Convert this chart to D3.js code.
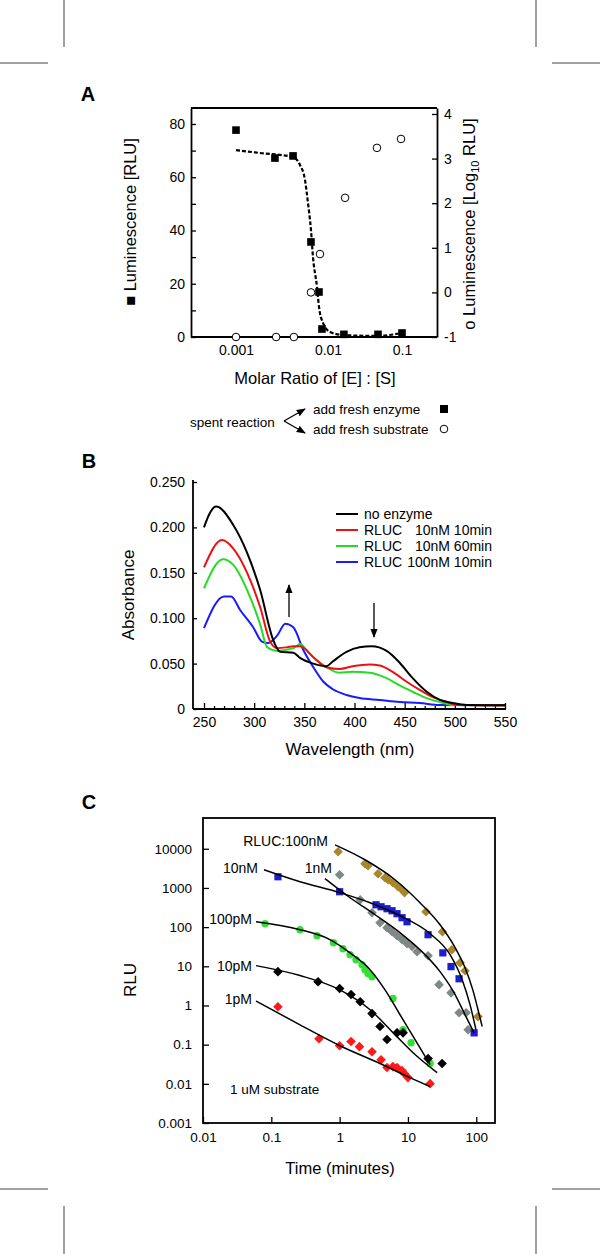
<!DOCTYPE html>
<html>
<head>
<meta charset="utf-8">
<script src="https://cdn.jsdelivr.net/npm/d3@7"></script>
<style>
  body { margin: 0; background: #fff; }
  svg text { font-family: Arial, "Liberation Sans", sans-serif; fill: #000; }
</style>
</head>
<body>
<div id="chart"></div>
<script>
// ---------- Panel A data ----------
const ratioTicks = [0.001, 0.01, 0.1];
const sqRatio = [0.001, 0.00265, 0.00417, 0.00653, 0.00798, 0.0086, 0.0164, 0.0474, 0.1];
const sqRLU = [77.7, 67.2, 68, 35.7, 16.9, 3, 1, 1, 1.5];
const circRatio = [0.001, 0.00273, 0.00426, 0.00653, 0.00818, 0.017, 0.0459, 0.097];
const circLog = [-1, -1, -1, 0, 0.86, 2.12, 3.24, 3.44];
const fitRatio = [0.001, 0.00182, 0.00417, 0.00496, 0.00562, 0.00606, 0.00653, 0.00687, 0.00759, 0.00798, 0.00883, 0.01064, 0.01595, 0.0459, 0.1];
const fitRLU = [70.2, 69.1, 67.6, 64.6, 59, 50.3, 40.2, 30, 18.8, 11.3, 5.3, 1.9, 0.75, 0.4, 1.5];

// ---------- Panel B data ----------
const wlTicks = [250, 300, 350, 400, 450, 500, 550];
const absTicks = [0, 0.05, 0.1, 0.15, 0.2, 0.25];
const blackWl = [250, 255, 262, 279, 293, 306, 319, 326, 339, 346, 359, 372, 378, 392, 405, 417, 432, 445, 458, 472, 485, 498, 512, 550];
const blackAbs = [0.200, 0.214, 0.223, 0.203, 0.172, 0.131, 0.076, 0.063, 0.062, 0.056, 0.050, 0.047, 0.052, 0.063, 0.068, 0.069, 0.064, 0.051, 0.034, 0.019, 0.010, 0.0066, 0.0044, 0.004];
const redWl = [250, 268, 279, 293, 306, 316, 323, 333, 339, 346, 359, 372, 385, 398, 415, 425, 438, 452, 465, 478, 492, 502, 550];
const redAbs = [0.156, 0.186, 0.177, 0.150, 0.112, 0.074, 0.067, 0.068, 0.069, 0.069, 0.057, 0.046, 0.044, 0.047, 0.049, 0.048, 0.041, 0.030, 0.021, 0.013, 0.0077, 0.0044, 0.004];
const greenWl = [250, 269, 279, 293, 306, 313, 323, 339, 346, 352, 362, 372, 385, 398, 415, 432, 445, 458, 472, 485, 498, 550];
const greenAbs = [0.133, 0.165, 0.159, 0.131, 0.093, 0.068, 0.064, 0.067, 0.0716, 0.065, 0.054, 0.046, 0.040, 0.041, 0.040, 0.034, 0.026, 0.019, 0.012, 0.0077, 0.0044, 0.004];
const blueWl = [250, 270, 277, 286, 299, 308, 314, 323, 331, 339, 349, 359, 369, 378, 392, 405, 425, 445, 465, 485, 550];
const blueAbs = [0.089, 0.124, 0.124, 0.109, 0.090, 0.074, 0.0727, 0.081, 0.094, 0.090, 0.065, 0.046, 0.030, 0.022, 0.0154, 0.012, 0.0099, 0.0077, 0.0066, 0.0044, 0.004];
const legendB = ["no enzyme", "RLUC   10nM 10min", "RLUC   10nM 60min", "RLUC 100nM 10min"];

// ---------- Panel C data ----------
const timeTicks = [0.01, 0.1, 1, 10, 100];
const rluTicks = [0.001, 0.01, 0.1, 1, 10, 100, 1000, 10000];
const gold_t = [0.95, 2.35, 2.6, 3.65, 4.62, 5.11, 6.03, 7.16, 8.2, 8.9, 18.4, 32, 44, 58, 68.5, 106];
const gold_v = [8400, 4140, 3680, 2300, 1820, 1620, 1360, 1070, 900, 760, 247, 76, 26.5, 12.4, 7.7, 0.52];
const goldFit_t = [0.857, 2.35, 6.46, 15, 29.5, 49, 68.5, 89, 106, 122];
const goldFit_v = [12600, 5240, 1620, 419, 115, 30, 9.2, 2.5, 0.78, 0.29];
const blue_t = [0.125, 1.0, 3.41, 4.04, 4.94, 5.85, 6.92, 8.2, 9.7, 19.7, 32.4, 42.7, 56, 93];
const blue_v = [1930, 800, 372, 331, 295, 262, 220, 174, 137, 64, 22, 9.8, 4.8, 0.2];
const blueFit_t = [0.078, 0.263, 1.0, 2.79, 7.66, 21.1, 41.3, 62, 81, 99];
const blueFit_v = [2910, 1440, 760, 419, 195, 68, 19.8, 4.6, 1.05, 0.24];
const gray_t = [1.0, 2.0, 2.98, 3.9, 4.94, 5.85, 6.92, 8.2, 9.7, 11.5, 13.6, 19.7, 28.5, 42.7, 56, 71, 75.9];
const gray_v = [2170, 500, 233, 129, 97, 76, 60, 48, 38, 32, 23.6, 18.6, 3.4, 2.1, 0.65, 0.65, 0.24];
const grayFit_t = [0.61, 1.42, 3.3, 7.66, 15, 29.5, 49, 68.5, 93];
const grayFit_v = [1720, 562, 207, 72, 26.5, 7.3, 1.9, 0.58, 0.2];
const green_t = [0.081, 0.263, 0.467, 0.81, 1.12, 1.42, 1.74, 2.13, 2.35, 2.6, 2.98, 6.03, 8.48, 11.1, 21.1];
const green_v = [122, 86, 60, 40, 28, 19.8, 14.7, 11, 8.2, 6.5, 5.4, 1.5, 0.24, 0.112, 0.033];
const greenFit_t = [0.0597, 0.263, 0.72, 1.42, 2.79, 4.62, 7.66, 12.7, 21.1];
const greenFit_v = [137, 86, 48, 22, 8.2, 2.5, 0.58, 0.135, 0.031];
const black_t = [0.125, 0.483, 1.0, 1.47, 2.0, 2.98, 3.9, 4.94, 6.92, 8.48, 19.7, 31.6];
const black_v = [7.3, 4.05, 2.7, 1.9, 1.25, 0.62, 0.29, 0.135, 0.2, 0.2, 0.044, 0.033];
const blackFit_t = [0.0597, 0.263, 1.01, 2.79, 6.46, 12.7, 26.7];
const blackFit_v = [10.4, 5.8, 2.5, 0.78, 0.18, 0.056, 0.0193];
const red_t = [0.125, 0.499, 1.0, 1.47, 1.95, 2.98, 4.04, 4.94, 6.03, 6.92, 8.2, 8.9, 10, 21.1];
const red_v = [0.93, 0.142, 0.094, 0.12, 0.089, 0.066, 0.041, 0.026, 0.0275, 0.026, 0.0217, 0.018, 0.0144, 0.0101];
const redFit_t = [0.0597, 0.263, 1.01, 3.9, 10.7, 21.1];
const redFit_v = [1.3, 0.32, 0.094, 0.033, 0.0144, 0.0085];

const zip = (a, b) => a.map((d, i) => [d, b[i]]);

const svg = d3.select("#chart").append("svg")
    .attr("width", 600).attr("height", 1254);

const defs = svg.append("defs");
defs.append("marker").attr("id", "head")
    .attr("viewBox", "0 0 10 10").attr("refX", 9).attr("refY", 5)
    .attr("markerWidth", 7).attr("markerHeight", 7).attr("orient", "auto")
    .append("path").attr("d", "M0,1 L10,5 L0,9 Z").attr("fill", "#000");

// crop marks
const crop = [[64, 0, 64, 47], [0, 63, 48, 63], [536, 0, 536, 47], [552, 63, 600, 63],
              [0, 1189, 48, 1189], [64, 1206, 64, 1254], [552, 1189, 600, 1189], [536, 1206, 536, 1254]];
svg.selectAll(".crop").data(crop).enter().append("line")
    .attr("x1", d => d[0]).attr("y1", d => d[1]).attr("x2", d => d[2]).attr("y2", d => d[3])
    .attr("stroke", "#808080").attr("stroke-width", 1.5);

function panelLetter(t, x, y) {
    svg.append("text").attr("x", x).attr("y", y).attr("font-size", 20).attr("font-weight", "bold")
        .attr("text-anchor", "middle").attr("dy", "0.36em").text(t);
}
function styleAxis(g, fs) {
    g.selectAll("path.domain").attr("stroke", "#000").attr("stroke-width", 1.8);
    g.selectAll(".tick line").attr("stroke", "#000").attr("stroke-width", 1.3);
    g.selectAll(".tick text").attr("font-size", fs).attr("font-family", "Arial, 'Liberation Sans', sans-serif").attr("fill", "#000");
}

// ================= Panel A =================
panelLetter("A", 88, 94);
const xA = d3.scaleLog().domain(ratioTicks).range([236, 328, 402]);
const yA = d3.scaleLinear().domain([0, 86]).range([337, 108]);
const yA2 = d3.scaleLinear().domain([-1, 4.134]).range([337, 108]);

svg.append("line").attr("x1", 191).attr("x2", 437).attr("y1", 108).attr("y2", 108)
    .attr("stroke", "#000").attr("stroke-width", 1.8);

const gAl = svg.append("g").attr("transform", "translate(191,0)")
    .call(d3.axisLeft(yA).tickValues(d3.range(0, 81, 10)).tickSizeInner(-5).tickSizeOuter(0)
        .tickPadding(6).tickFormat(d => d % 20 === 0 ? d : ""));
styleAxis(gAl, 14);
const gAr = svg.append("g").attr("transform", "translate(437,0)")
    .call(d3.axisRight(yA2).tickValues([-1, 0, 1, 2, 3, 4]).tickSizeInner(-5).tickSizeOuter(0)
        .tickPadding(7).tickFormat(d3.format("d")));
styleAxis(gAr, 14);
gAr.selectAll(".tick text").text(d => d < 0 ? "-" + Math.abs(d) : d);
const gAb = svg.append("g").attr("transform", "translate(0,337)")
    .call(d3.axisBottom(xA).tickValues(ratioTicks).tickSize(0).tickPadding(8)
        .tickFormat(d => String(d)));
gAb.select("path.domain").attr("d", "M191,0H437");
styleAxis(gAb, 14);

svg.append("path").datum(zip(fitRatio, fitRLU))
    .attr("fill", "none").attr("stroke", "#000").attr("stroke-width", 2.2)
    .attr("stroke-dasharray", "4,2")
    .attr("d", d3.line().x(d => xA(d[0])).y(d => yA(d[1])).curve(d3.curveMonotoneX));

svg.selectAll(".sqA").data(zip(sqRatio, sqRLU)).enter().append("rect")
    .attr("x", d => xA(d[0]) - 3.8).attr("y", d => yA(d[1]) - 3.8)
    .attr("width", 7.6).attr("height", 7.6).attr("fill", "#000");
svg.selectAll(".ciA").data(zip(circRatio, circLog)).enter().append("circle")
    .attr("cx", d => xA(d[0])).attr("cy", d => yA2(d[1])).attr("r", 3.8)
    .attr("fill", "#fff").attr("stroke", "#000").attr("stroke-width", 1);

svg.append("text").attr("transform", "translate(136,222) rotate(-90)")
    .attr("text-anchor", "middle").attr("font-size", 16.5).text("\u25A0 Luminescence [RLU]");
const rt = svg.append("text").attr("transform", "translate(475,224) rotate(-90)")
    .attr("text-anchor", "middle").attr("font-size", 16.5);
rt.append("tspan").text("o Luminescence [Log");
rt.append("tspan").attr("font-size", 11).attr("dy", 4).text("10");
rt.append("tspan").attr("dy", -4).text(" RLU]");
svg.append("text").attr("x", 315).attr("y", 378).attr("dy", "0.36em").attr("text-anchor", "middle")
    .attr("font-size", 16.5).text("Molar Ratio of [E] : [S]");

// legend under A
svg.append("text").attr("x", 190).attr("y", 422).attr("dy", "0.36em").attr("font-size", 13.5).text("spent reaction");
svg.append("line").attr("x1", 284).attr("y1", 421).attr("x2", 305).attr("y2", 409)
    .attr("stroke", "#000").attr("stroke-width", 1.3).attr("marker-end", "url(#head)");
svg.append("line").attr("x1", 284).attr("y1", 421).attr("x2", 305).attr("y2", 433)
    .attr("stroke", "#000").attr("stroke-width", 1.3).attr("marker-end", "url(#head)");
svg.append("text").attr("x", 313).attr("y", 409).attr("dy", "0.36em").attr("font-size", 13.5).text("add fresh enzyme");
svg.append("text").attr("x", 313).attr("y", 429).attr("dy", "0.36em").attr("font-size", 13.5).text("add fresh substrate");
svg.append("rect").attr("x", 440).attr("y", 405).attr("width", 8).attr("height", 8).attr("fill", "#000");
svg.append("circle").attr("cx", 444).attr("cy", 429).attr("r", 3.8).attr("fill", "#fff").attr("stroke", "#000");

// ================= Panel B =================
panelLetter("B", 89, 461);
const xB = d3.scaleLinear().domain([250, 550]).range([204, 505]);
const yB = d3.scaleLinear().domain([0, 0.25]).range([709, 482]);

const gBl = svg.append("g").attr("transform", "translate(193,0)")
    .call(d3.axisLeft(yB).tickValues(absTicks).tickSizeInner(-4).tickSizeOuter(0).tickPadding(8)
        .tickFormat(d => d === 0 ? "0" : d3.format(".3f")(d)));
gBl.select("path.domain").attr("d", "M0,709V480");
styleAxis(gBl, 14);
const gBb = svg.append("g").attr("transform", "translate(0,709)")
    .call(d3.axisBottom(xB).tickValues(d3.range(250, 551, 10)).tickSizeInner(-3).tickSizeOuter(0).tickPadding(8)
        .tickFormat(d => d % 50 === 0 ? d : ""));
gBb.select("path.domain").attr("d", "M193,0H506");
gBb.selectAll(".tick line").filter(d => d % 50 === 0).attr("y2", -6);
styleAxis(gBb, 14);

const lineB = d3.line().x(d => xB(d[0])).y(d => yB(d[1])).curve(d3.curveMonotoneX);
const specs = [
    { wl: blueWl, a: blueAbs, c: "#1a1aff" },
    { wl: greenWl, a: greenAbs, c: "#22dd22" },
    { wl: redWl, a: redAbs, c: "#ee1111" },
    { wl: blackWl, a: blackAbs, c: "#000" }
];
specs.forEach(s => {
    svg.append("path").datum(zip(s.wl, s.a)).attr("fill", "none")
        .attr("stroke", s.c).attr("stroke-width", 2).attr("d", lineB);
});

const legColors = ["#000", "#ee1111", "#22dd22", "#1a1aff"];
legendB.forEach((t, i) => {
    const y = 514 + i * 16;
    svg.append("line").attr("x1", 336).attr("x2", 358).attr("y1", y).attr("y2", y)
        .attr("stroke", legColors[i]).attr("stroke-width", 2);
    if (i === 0) {
        svg.append("text").attr("x", 364).attr("y", y).attr("dy", "0.36em").attr("font-size", 14).text(t);
    } else {
        svg.append("text").attr("x", 364).attr("y", y).attr("dy", "0.36em").attr("font-size", 14).text(t.slice(0, 4));
        svg.append("text").attr("x", 492).attr("y", y).attr("dy", "0.36em").attr("font-size", 14)
            .attr("text-anchor", "end").text(t.slice(4).trim());
    }
});

svg.append("line").attr("x1", 289).attr("y1", 617).attr("x2", 289).attr("y2", 585)
    .attr("stroke", "#000").attr("stroke-width", 1.3).attr("marker-end", "url(#head)");
svg.append("line").attr("x1", 374).attr("y1", 603).attr("x2", 374).attr("y2", 637)
    .attr("stroke", "#000").attr("stroke-width", 1.3).attr("marker-end", "url(#head)");

svg.append("text").attr("transform", "translate(134,595) rotate(-90)")
    .attr("text-anchor", "middle").attr("font-size", 17).text("Absorbance");
svg.append("text").attr("x", 350).attr("y", 749).attr("dy", "0.36em").attr("text-anchor", "middle")
    .attr("font-size", 17).text("Wavelength (nm)");

// ================= Panel C =================
panelLetter("C", 89, 802);
const xC = d3.scaleLog().domain([0.01, 188]).range([203, 495]);
const yC = d3.scaleLog().domain([0.001, 61000]).range([1123, 818]);

svg.append("rect").attr("x", 203).attr("y", 818).attr("width", 292).attr("height", 305)
    .attr("fill", "none").attr("stroke", "#000").attr("stroke-width", 1.8);
const gCl = svg.append("g").attr("transform", "translate(203,0)")
    .call(d3.axisLeft(yC).tickValues(rluTicks).tickSizeInner(-6).tickSizeOuter(0).tickPadding(11)
        .tickFormat(d => d >= 1 ? d3.format("d")(d) : String(d)));
gCl.select("path.domain").remove();
styleAxis(gCl, 13.5);
const gCb = svg.append("g").attr("transform", "translate(0,1123)")
    .call(d3.axisBottom(xC).tickValues(timeTicks).tickSizeInner(-6).tickSizeOuter(0).tickPadding(9)
        .tickFormat(d => String(d)));
gCb.select("path.domain").remove();
styleAxis(gCb, 13.5);

const lineC = d3.line().x(d => xC(d[0])).y(d => yC(d[1])).curve(d3.curveMonotoneX);
const diamond = d3.symbol(d3.symbolSquare, 46);
const seriesC = [
    { t: gold_t, v: gold_v, ft: goldFit_t, fv: goldFit_v, c: "#a8862a", m: "diamond" },
    { t: gray_t, v: gray_v, ft: grayFit_t, fv: grayFit_v, c: "#7f8787", m: "diamond" },
    { t: blue_t, v: blue_v, ft: blueFit_t, fv: blueFit_v, c: "#1c1cd0", m: "square" },
    { t: green_t, v: green_v, ft: greenFit_t, fv: greenFit_v, c: "#33e033", m: "circle" },
    { t: black_t, v: black_v, ft: blackFit_t, fv: blackFit_v, c: "#000", m: "diamond" },
    { t: red_t, v: red_v, ft: redFit_t, fv: redFit_v, c: "#ff1a1a", m: "diamond" }
];
seriesC.forEach(s => {
    const pts = zip(s.t, s.v);
    if (s.m === "diamond") {
        svg.selectAll(null).data(pts).enter().append("path")
            .attr("d", diamond)
            .attr("transform", d => `translate(${xC(d[0])},${yC(d[1])}) rotate(45)`)
            .attr("fill", s.c);
    } else if (s.m === "square") {
        svg.selectAll(null).data(pts).enter().append("rect")
            .attr("x", d => xC(d[0]) - 3.6).attr("y", d => yC(d[1]) - 3.6)
            .attr("width", 7.2).attr("height", 7.2).attr("fill", s.c);
    } else {
        svg.selectAll(null).data(pts).enter().append("circle")
            .attr("cx", d => xC(d[0])).attr("cy", d => yC(d[1])).attr("r", 3.7).attr("fill", s.c);
    }
});
seriesC.forEach(s => {
    svg.append("path").datum(zip(s.ft, s.fv)).attr("fill", "none")
        .attr("stroke", "#000").attr("stroke-width", 1.5).attr("d", lineC);
});

const labelsC = [
    { t: "RLUC:100nM", x: 328, y: 841 },
    { t: "10nM", x: 258, y: 868 },
    { t: "1nM", x: 332, y: 868 },
    { t: "100pM", x: 252, y: 919 },
    { t: "10pM", x: 252, y: 966 },
    { t: "1pM", x: 252, y: 999 }
];
svg.selectAll(".labC").data(labelsC).enter().append("text")
    .attr("x", d => d.x).attr("y", d => d.y).attr("dy", "0.36em").attr("text-anchor", "end")
    .attr("font-size", 14).text(d => d.t);
svg.append("text").attr("x", 230).attr("y", 1089).attr("dy", "0.36em").attr("font-size", 13.5).text("1 uM substrate");

svg.append("text").attr("transform", "translate(136,980) rotate(-90)")
    .attr("text-anchor", "middle").attr("font-size", 17).text("RLU");
svg.append("text").attr("x", 340).attr("y", 1168).attr("dy", "0.36em").attr("text-anchor", "middle")
    .attr("font-size", 16.5).text("Time (minutes)");
</script>
</body>
</html>
